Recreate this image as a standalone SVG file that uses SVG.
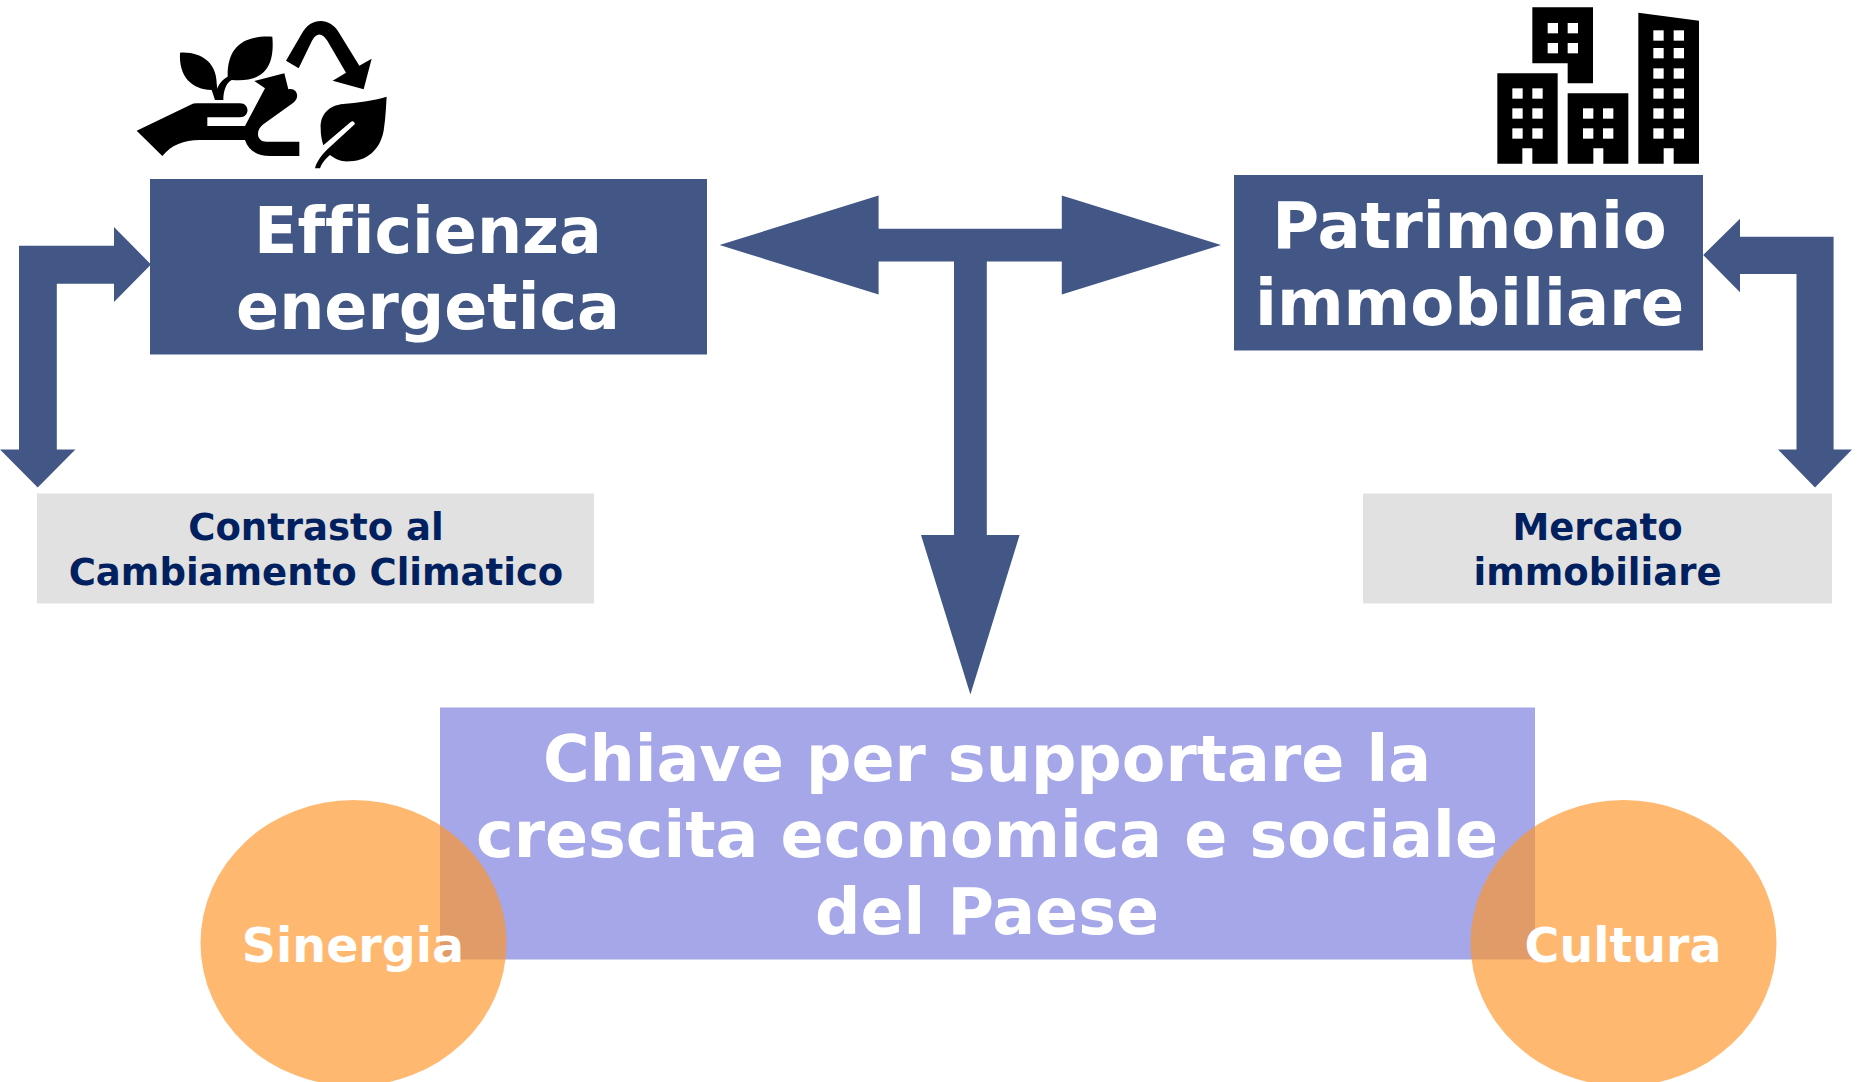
<svg xmlns="http://www.w3.org/2000/svg" width="1861" height="1082" viewBox="0 0 1861 1082">
<style>
.box{fill:#425786}
.arrow{fill:#425786}
.grey{fill:#E1E1E1}
.icon{fill:#000}
.win{fill:#fff}
text{font-family:"DejaVu Sans","Verdana",sans-serif;font-weight:700;text-anchor:middle;font-variant-ligatures:none}
.big{fill:#fff;font-size:63.5px}
.big2{fill:#fff;font-size:64px}
.small{fill:#002060;font-size:37px}
.tag{fill:#fff;font-size:47.5px}
.orb{fill:rgb(255,149,42);fill-opacity:.67}
</style>
<rect width="1861" height="1082" fill="#fff"/>
<g id="connectors">
<path class="arrow" d="M719.6,245 L878.6,195.4 V228.8 H1061.8 V195.4 L1221,245 L1061.8,294.6 V261.6 H986.8 V535 H1019.6 L970.4,694.4 L921,535 H954 V261.6 H878.6 V294.6 Z"/>
<path class="arrow" d="M151,264.5 L114,227 V245.7 H19 V449.5 H0 L37.7,487.5 L75.4,449.5 H56.8 V283.7 H114 V302 Z"/>
<path class="arrow" d="M1703.2,255 L1740,218.7 V236.7 H1833.6 V449.5 H1852 L1815,487.5 L1778,449.5 H1796.5 V274 H1740 V292.3 Z"/>
</g>
<g id="icon-sustainability" transform="translate(100,0) scale(.33333)">
<path class="icon" d="M240,158 C305,154 350,190 350,250 L352,268 L368,300 H345 L335,270 C275,268 236,230 240,158 Z"/>
<path class="icon" d="M517,110 C430,106 382,140 383,230 C365,240 355,255 350,270 L345,300 H370 C370,270 380,248 395,240 C500,250 524,190 517,110 Z"/>
<path class="icon" d="M110,392 L272,314 Q280,310 290,310 H420 C450,310 450,352 420,352 H322 V378 H435 L495,265 L463,243 L553,220 L565,268 C590,262 602,292 580,308 L490,373 C465,392 470,425 500,425 H598 V468 H510 C470,468 445,450 435,420 H300 C250,420 215,435 187,468 Z"/>
<path class="icon" d="M558,182 L606,100 C632,52 690,50 718,100 L778,197 L815,176 L791,268 L698,242 L738,218 L682,122 C665,97 650,97 636,122 L596,205 Z"/>
<path class="icon" d="M860,290 C820,302 770,308 730,312 C685,316 660,345 662,385 C662,405 665,420 670,436 L752,366 Q762,360 765,372 L680,450 C665,465 650,485 645,505 H660 C665,490 678,475 690,465 C710,480 725,486 750,484 C810,482 845,440 852,385 C857,350 858,320 860,290 Z"/>
</g>
<g id="icon-buildings" transform="translate(1480,0) scale(.33333)">
<path class="icon" d="M157,22 H339 V250 H263 V190 H157 Z"/>
<path class="icon" d="M52,220 H233 V491 H157 V445 H127 V491 H52 Z"/>
<path class="icon" d="M263,280 H445 V491 H370 V445 H340 V491 H263 Z"/>
<path class="icon" d="M475,38 L657,62 V491 H581 V445 H551 V491 H475 Z"/>
<g class="win">
<rect x="203" y="69" width="31" height="31"/><rect x="263" y="69" width="31" height="31"/><rect x="203" y="129" width="31" height="31"/><rect x="263" y="129" width="31" height="31"/>
<rect x="97" y="265" width="31" height="31"/><rect x="157" y="265" width="31" height="31"/><rect x="97" y="325" width="31" height="31"/><rect x="157" y="325" width="31" height="31"/><rect x="97" y="385" width="31" height="31"/><rect x="157" y="385" width="31" height="31"/>
<rect x="309" y="325" width="31" height="31"/><rect x="369" y="325" width="31" height="31"/><rect x="309" y="385" width="31" height="31"/><rect x="369" y="385" width="31" height="31"/>
<rect x="520" y="91" width="31" height="31"/><rect x="581" y="91" width="31" height="31"/><rect x="520" y="144" width="31" height="31"/><rect x="581" y="144" width="31" height="31"/><rect x="520" y="205" width="31" height="31"/><rect x="581" y="205" width="31" height="31"/><rect x="520" y="265" width="31" height="31"/><rect x="581" y="265" width="31" height="31"/><rect x="520" y="325" width="31" height="31"/><rect x="581" y="325" width="31" height="31"/><rect x="520" y="385" width="31" height="31"/><rect x="581" y="385" width="31" height="31"/>
</g>
</g>
<g id="node-efficienza">
<rect class="box" x="150" y="179" width="557" height="175.5"/>
<text class="big" x="428" y="252.7">Efficienza</text>
<text class="big" x="428" y="329.4">energetica</text>
</g>
<g id="node-patrimonio">
<rect class="box" x="1234" y="175" width="469" height="175.5"/>
<text class="big2" x="1469.5" y="248.3">Patrimonio</text>
<text class="big2" x="1469.5" y="325">immobiliare</text>
</g>
<g id="node-contrasto">
<rect class="grey" x="37" y="493.5" width="557" height="110"/>
<text class="small" x="316" y="540">Contrasto al</text>
<text class="small" x="316" y="585">Cambiamento Climatico</text>
</g>
<g id="node-mercato">
<rect class="grey" x="1363" y="493.5" width="469" height="110"/>
<text class="small" x="1597.5" y="540">Mercato</text>
<text class="small" x="1597.5" y="585">immobiliare</text>
</g>
<g id="node-chiave">
<rect x="440" y="707.5" width="1095" height="252" fill="#A5A7E8"/>
<text class="big" x="987" y="780.7">Chiave per supportare la</text>
<text class="big" x="987" y="857.3">crescita economica e sociale</text>
<text class="big" x="987" y="934.3">del Paese</text>
</g>
<g id="node-sinergia">
<ellipse class="orb" cx="353.5" cy="943" rx="153" ry="143"/>
<text class="tag" x="353" y="961.5">Sinergia</text>
</g>
<g id="node-cultura">
<ellipse class="orb" cx="1623.5" cy="943" rx="153" ry="143"/>
<text class="tag" x="1623" y="961.5">Cultura</text>
</g>
</svg>
